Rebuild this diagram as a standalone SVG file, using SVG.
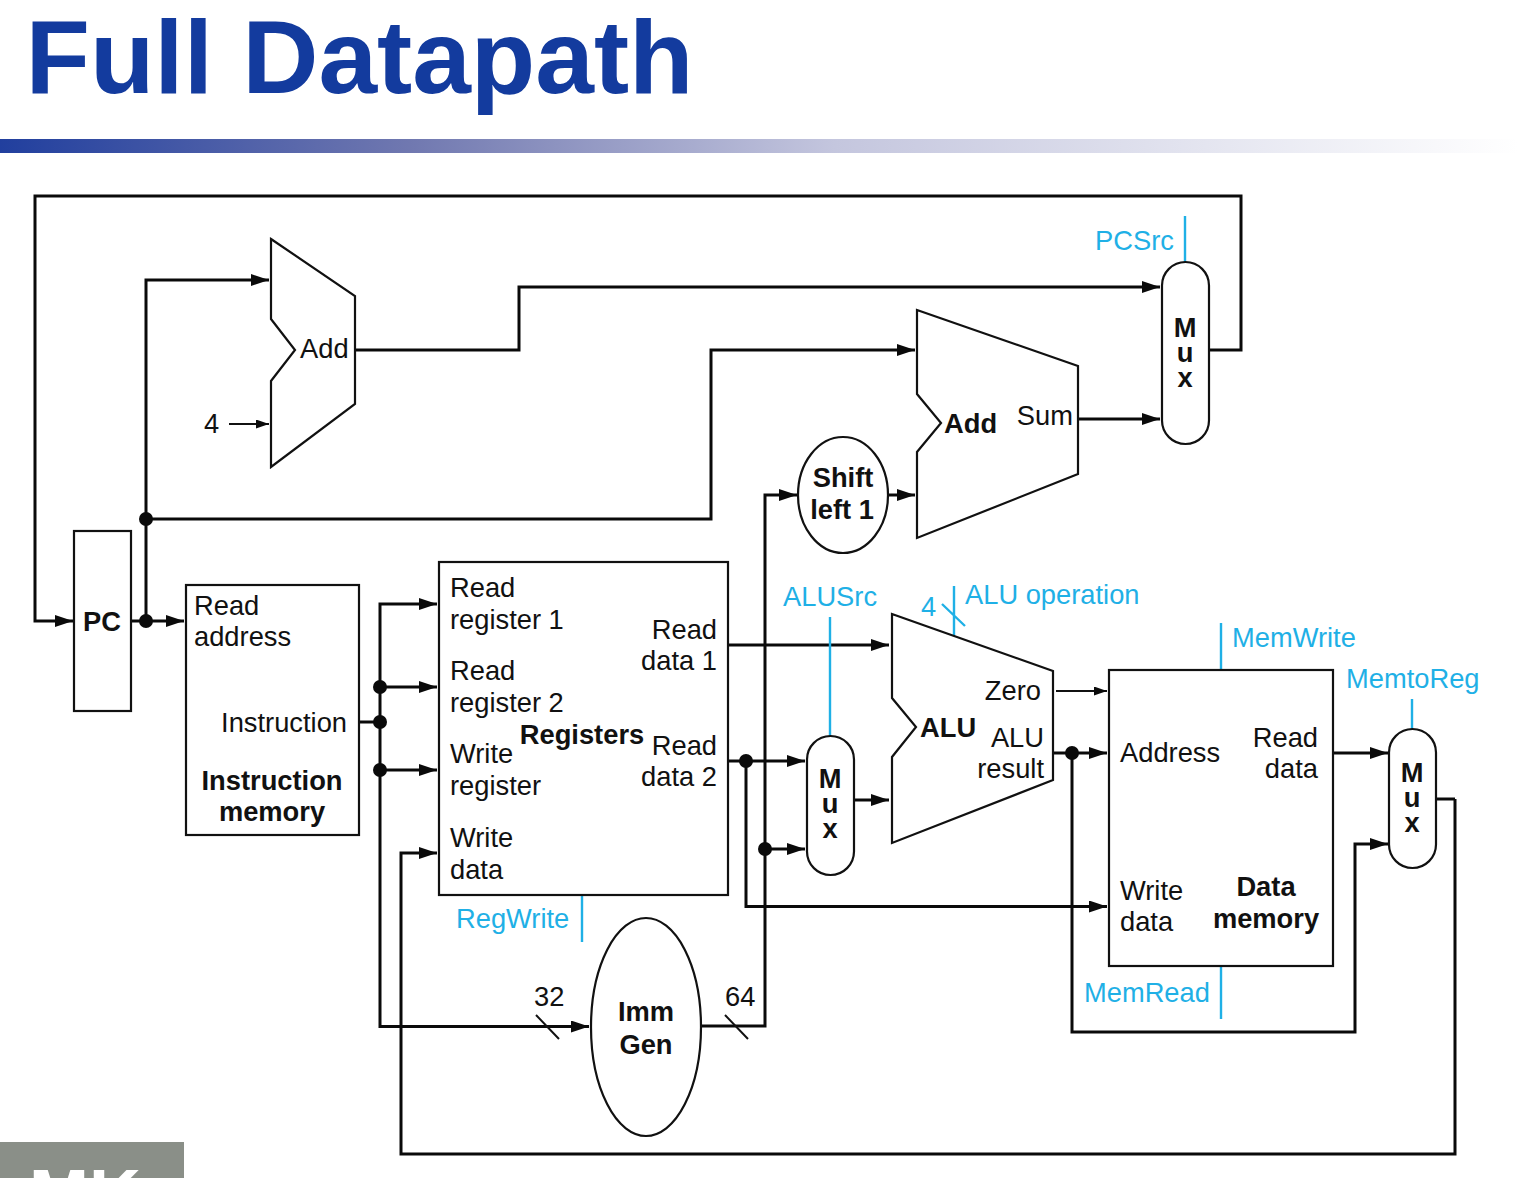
<svg xmlns="http://www.w3.org/2000/svg" width="1518" height="1178" viewBox="0 0 1518 1178">
<style>
text{font-family:"Liberation Sans",Arial,sans-serif;font-size:27.300px;fill:#111}
.b{font-weight:bold}
.c{fill:#1fb0e6}
.m{text-anchor:middle}
.e{text-anchor:end}
.box{fill:#fff;stroke:#111;stroke-width:2.2}
.w{fill:none;stroke:#0a0a0a;stroke-width:3}
.t{fill:none;stroke:#111;stroke-width:2}
.cl{fill:none;stroke:#1fb0e6;stroke-width:2.4}
.a{fill:none;stroke:#0a0a0a;stroke-width:3;marker-end:url(#ah)}
.a2{fill:none;stroke:#111;stroke-width:2;marker-end:url(#ah2)}
.d{fill:#0a0a0a}
</style>
<defs>
<linearGradient id="bar" x1="0" x2="1" y1="0" y2="0">
<stop offset="0" stop-color="#213f9e"/><stop offset="0.27" stop-color="#7078b0"/><stop offset="0.55" stop-color="#c4c6de"/><stop offset="1" stop-color="#ffffff"/>
</linearGradient>
<marker id="ah" markerUnits="userSpaceOnUse" markerWidth="20" markerHeight="14" refX="18" refY="6" orient="auto"><path d="M0 0L18 6L0 12z" fill="#0a0a0a"/></marker>
<marker id="ah2" markerUnits="userSpaceOnUse" markerWidth="16" markerHeight="12" refX="13" refY="4.5" orient="auto"><path d="M0 0L13 4.500L0 9z" fill="#0a0a0a"/></marker>
</defs>
<g id="header">
<text x="25.500" y="92.500" class="b" textLength="668" lengthAdjust="spacingAndGlyphs" style="font-size:103px;fill:#133b9e">Full Datapath</text>
<rect x="0" y="139" width="1518" height="14" fill="url(#bar)"/>
<rect x="0" y="1142" width="184" height="36" fill="#8a8f88"/>
<text x="29" y="1220" class="b" style="font-size:72px;fill:#fff">MK</text>
</g>
<g id="connectors">
<path class="a" d="M1209 350H1241V196H35V621H73"/>
<path class="a" d="M131 621H184"/>
<path class="a" d="M146 621V280H269"/>
<path class="a2" d="M229 424H269"/>
<path class="a" d="M146 519H711V350H915"/>
<path class="a" d="M355 350H519V287H1160"/>
<path class="a" d="M1079 419H1160"/>
<path class="a" d="M888 495H915"/>
<path class="a" d="M765 849H805"/>
<path class="a" d="M702 1026H765V495H797"/>
<path class="a" d="M359 722H380V604H437"/>
<path class="a" d="M380 687H437"/>
<path class="a" d="M380 770H437"/>
<path class="a" d="M380 722V1026.500H589"/>
<path class="t" d="M536 1015L559 1039M725 1015L748 1039"/>
<path class="a" d="M1455 799V1154H401V853H437"/>
<path class="w" d="M1436 799H1455"/>
<path class="a" d="M729 645H889"/>
<path class="a" d="M729 761H805"/>
<path class="a" d="M746 761V906.500H1107"/>
<path class="a" d="M854 800H889"/>
<path class="a2" d="M1056 691H1107"/>
<path class="a" d="M1053 753H1107"/>
<path class="a" d="M1072 753V1032H1355V844H1388"/>
<path class="a" d="M1334 753H1388"/>
<circle class="d" cx="146" cy="519" r="7"/>
<circle class="d" cx="146" cy="621" r="7"/>
<circle class="d" cx="380" cy="687" r="7"/>
<circle class="d" cx="380" cy="722" r="7"/>
<circle class="d" cx="380" cy="770" r="7"/>
<circle class="d" cx="746" cy="761" r="7"/>
<circle class="d" cx="765" cy="849" r="7"/>
<circle class="d" cx="1072" cy="753" r="7"/>
<path class="cl" d="M1185 216V262M830 617V736M954 586V636M942 604L965 626M1221 623V670M1412 699V729M582 896V942M1221 966V1019"/>
</g>
<g id="pc"><rect class="box" x="74" y="531" width="57" height="180"/><text x="102" y="631" class="b m">PC</text></g>
<g id="add1"><path class="box" d="M271 239L355 296V404L271 467V381L295 350L271 319Z"/><text x="300" y="358">Add</text><text x="204" y="433">4</text></g>
<g id="add2"><path class="box" d="M917 310L1078 366V474L917 538V452L941 423L917 394Z"/><text x="944" y="433" class="b">Add</text><text x="1073" y="425" class="e">Sum</text></g>
<g id="mux-pc"><rect class="box" x="1162" y="262" width="47" height="182" rx="23.500"/><text x="1185" y="337" class="b m">M</text><text x="1185" y="362" class="b m">u</text><text x="1185" y="387" class="b m">x</text></g>
<g id="shift"><ellipse class="box" cx="843" cy="495" rx="45" ry="58"/><text x="843" y="487" class="b m">Shift</text><text x="842" y="519" class="b m">left 1</text></g>
<g id="imem"><rect class="box" x="186" y="585" width="173" height="250"/><text x="194" y="615">Read</text><text x="194" y="646">address</text><text x="347" y="732" class="e">Instruction</text><text x="272" y="790" class="b m">Instruction</text><text x="272" y="821" class="b m">memory</text></g>
<g id="registers"><rect class="box" x="439" y="562" width="289" height="333"/>
<text x="450" y="597">Read</text><text x="450" y="629">register 1</text><text x="450" y="680">Read</text><text x="450" y="712">register 2</text><text x="450" y="763">Write</text><text x="450" y="795">register</text><text x="450" y="847">Write</text><text x="450" y="879">data</text>
<text x="717" y="639" class="e">Read</text><text x="717" y="670" class="e">data 1</text><text x="717" y="755" class="e">Read</text><text x="717" y="786" class="e">data 2</text><text x="582" y="744" class="b m">Registers</text></g>
<g id="mux-alu"><rect class="box" x="807" y="736" width="47" height="139" rx="23.500"/><text x="830" y="788" class="b m">M</text><text x="830" y="813" class="b m">u</text><text x="830" y="838" class="b m">x</text></g>
<g id="alu"><path class="box" d="M892 614L1053 671V780L892 843V757L916 727L892 698Z"/><text x="920" y="737" class="b">ALU</text><text x="1041" y="700" class="e">Zero</text><text x="1044" y="747" class="e">ALU</text><text x="1044" y="778" class="e">result</text></g>
<g id="dmem"><rect class="box" x="1109" y="670" width="224" height="296"/><text x="1120" y="762">Address</text><text x="1318" y="747" class="e">Read</text><text x="1318" y="778" class="e">data</text><text x="1120" y="900">Write</text><text x="1120" y="931">data</text><text x="1266" y="896" class="b m">Data</text><text x="1266" y="928" class="b m">memory</text></g>
<g id="mux-mem"><rect class="box" x="1389" y="729" width="47" height="139" rx="23.500"/><text x="1412" y="782" class="b m">M</text><text x="1412" y="807" class="b m">u</text><text x="1412" y="832" class="b m">x</text></g>
<g id="immgen"><ellipse class="box" cx="646" cy="1027" rx="55" ry="109"/><text x="646" y="1021" class="b m">Imm</text><text x="646" y="1054" class="b m">Gen</text></g>
<g id="labels">
<text x="534" y="1006">32</text><text x="725" y="1006">64</text>
<text x="1095" y="250" class="c">PCSrc</text><text x="783" y="606" class="c">ALUSrc</text><text x="921" y="616" class="c">4</text><text x="965" y="604" class="c">ALU operation</text><text x="1232" y="647" class="c">MemWrite</text><text x="1346" y="688" class="c">MemtoReg</text><text x="456" y="928" class="c">RegWrite</text><text x="1084" y="1002" class="c">MemRead</text>
</g>
</svg>
